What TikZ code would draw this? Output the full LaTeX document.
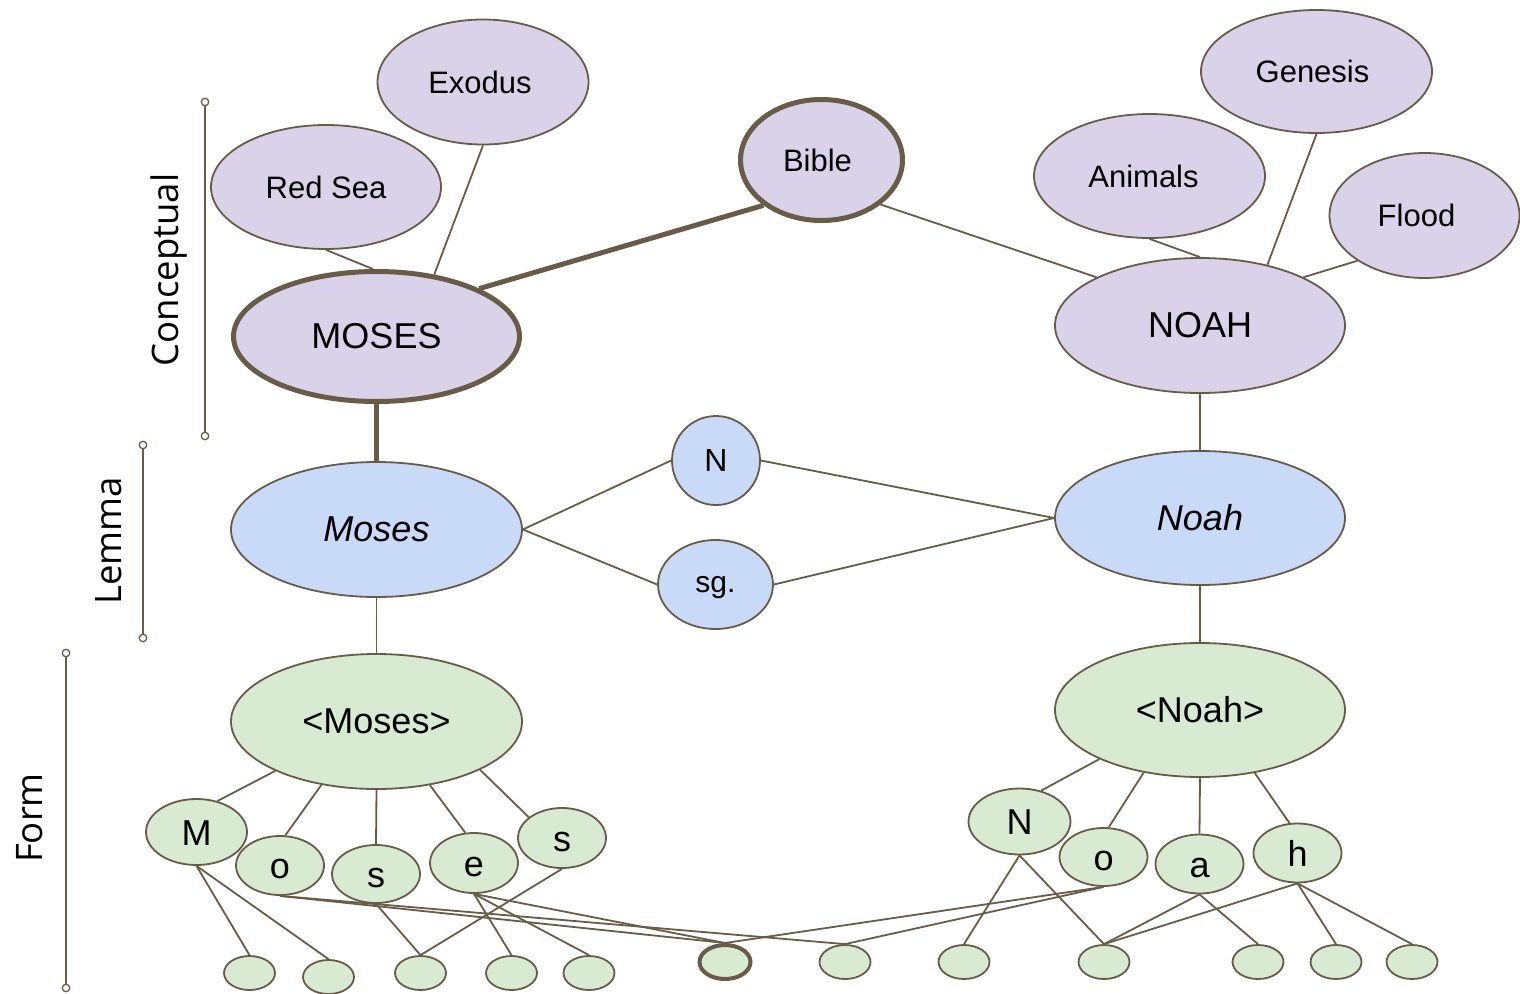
\documentclass[tikz,border=0pt]{standalone}
\usepackage{fontspec}
\setmainfont{Liberation Sans}
\newfontfamily\sidefont{Open Sans}
\usetikzlibrary{shapes.geometric}

\definecolor{edgec}{HTML}{685B47}
\definecolor{concc}{HTML}{D9D2E9}
\definecolor{lemc}{HTML}{C9DAF8}
\definecolor{formc}{HTML}{D9EAD3}

\newcommand\szBig{\fontsize{36}{40}\selectfont}
\newcommand\szMid{\fontsize{31}{36}\selectfont}
\newcommand\szSide{\fontsize{36.5}{40}\selectfont}
% shift a label sideways inside its oval
\newcommand\nudge[2]{\hspace*{#1}#2}

\tikzset{
  oval/.style={ellipse, draw=edgec, line width=1.8pt, inner sep=0pt,
               text=black, minimum width=#1},
  conc/.style={oval=#1, fill=concc},
  lemn/.style={oval=#1, fill=lemc},
  formn/.style={oval=#1, fill=formc},
  letter/.style={formn=#1, font=\szBig, text height=26pt, text depth=0pt},
  heavy/.style={line width=5pt},
  link/.style={draw=edgec, line width=1.8pt},
  biglink/.style={draw=edgec, line width=5pt},
  tick/.style={circle, draw=edgec, fill=white, line width=1.3pt,
               minimum size=7.5pt, inner sep=0pt},
  bar/.style={draw=edgec, line width=2pt},
  side/.style={rotate=90, font=\sidefont\szSide, text=black},
  leaf/.style={formn=51pt, minimum height=34pt},
}

\begin{document}
\begin{tikzpicture}[x=1pt, y=-1pt]
\useasboundingbox (0,0) rectangle (1520,993);

% level scales on the left
\node[tick] (cT) at (205,102) {};
\node[tick] (cB) at (205,436) {};
\node[tick] (lT) at (143,445) {};
\node[tick] (lB) at (143,638) {};
\node[tick] (fT) at (66,653) {};
\node[tick] (fB) at (66,988) {};
\draw[bar] (cT) -- (cB);
\draw[bar] (lT) -- (lB);
\draw[bar] (fT) -- (fB);
\node[side] (labC) at (169,270) {Conceptual};
\node[side] (labL) at (109,541) {Lemma};
\node[side] (labF) at (30,818) {Form};

% conceptual level
\node[conc=211pt, minimum height=125pt, font=\szMid] (exodus) at (483,82) {\nudge{-6pt}{Exodus}};
\node[conc=230pt, minimum height=124pt, font=\szMid] (redsea) at (326,187) {Red Sea};
\node[conc=286pt, minimum height=130pt, heavy, font=\szBig] (mosesC) at (376.5,336.5) {MOSES};
\node[conc=162pt, minimum height=121pt, heavy, font=\szMid] (bible) at (821.5,160) {\nudge{-8pt}{Bible}};
\node[conc=231pt, minimum height=123pt, font=\szMid] (genesis) at (1316.5,71.5) {\nudge{-8pt}{Genesis}};
\node[conc=231pt, minimum height=124pt, font=\szMid] (animals) at (1149.5,176) {\nudge{-12pt}{Animals}};
\node[conc=190pt, minimum height=125pt, font=\szMid] (flood) at (1424.5,215.5) {\nudge{-16pt}{Flood}};
\node[conc=290pt, minimum height=135pt, font=\szBig] (noahC) at (1200,325.5) {NOAH};

% lemma level
\node[lemn=291pt, minimum height=135pt, font=\szBig\itshape] (mosesL) at (376.5,529.5) {Moses};
\node[lemn=88pt, minimum height=89pt, font=\fontsize{32}{36}\selectfont] (numN) at (716,460.5) {N};
\node[lemn=115pt, minimum height=89pt, font=\fontsize{30}{34}\selectfont, text depth=0pt] (sg) at (715.5,584.5) {sg.};
\node[lemn=290pt, minimum height=134pt, font=\szBig\itshape] (noahL) at (1200,518) {Noah};

% form level
\node[formn=291pt, minimum height=135pt, font=\szBig] (mosesF) at (376.5,721.5) {<Moses>};
\node[formn=290pt, minimum height=134pt, font=\szBig] (noahF) at (1200,710) {<Noah>};

\node[letter=101pt, minimum height=66pt] (lM) at (196.5,832) {M};
\node[letter=88pt, minimum height=59pt] (lo1) at (280,865.5) {o};
\node[letter=88pt, minimum height=58pt] (ls1) at (376,874) {s};
\node[letter=88pt, minimum height=60pt] (le) at (474,863) {e};
\node[letter=88pt, minimum height=60pt] (ls2) at (562,838) {s};

\node[letter=102pt, minimum height=66pt] (lN) at (1019.5,821.5) {N};
\node[letter=88pt, minimum height=58pt] (lo2) at (1103.5,857) {o};
\node[letter=88pt, minimum height=59pt] (la) at (1199.5,864) {a};
\node[letter=88pt, minimum height=59pt] (lh) at (1297.5,853) {h};

% feature nodes along the bottom
\node[leaf] (b1) at (249.5,973) {};
\node[leaf] (b2) at (328.5,977) {};
\node[leaf] (b3) at (420.5,973) {};
\node[leaf] (b4) at (511.5,973) {};
\node[leaf] (b5) at (589,973) {};
\node[leaf, minimum width=51pt, minimum height=34pt, line width=4pt] (b6) at (725,962) {};
\node[leaf] (b7) at (845,962) {};
\node[leaf] (b8) at (964,962) {};
\node[leaf] (b9) at (1104,962) {};
\node[leaf] (b10) at (1258,962) {};
\node[leaf] (b11) at (1336,962) {};
\node[leaf] (b12) at (1412,962) {};

% conceptual links
\draw[link] (redsea.270) -- (mosesC.93);
\draw[link] (exodus.270) -- (mosesC.47);
\draw[biglink] (mosesC.25) -- (bible.218);
\draw[link] (bible.323) -- (noahC.155);
\draw[link] (animals.270) -- (noahC.90);
\draw[link] (genesis.270) -- (noahC.42);
\draw[link] (flood.214) -- (noahC.25);

% concept to lemma to form
\draw[biglink] (mosesC.south) -- (mosesL.north);
\draw[link] (noahC.south) -- (noahL.north);
\draw[link] (mosesL.east) -- (numN.west);
\draw[link] (mosesL.east) -- (sg.west);
\draw[link] (numN.east) -- (noahL.west);
\draw[link] (sg.east) -- (noahL.west);
\draw[link] (mosesL.south) -- (mosesF.north);
\draw[link] (noahL.south) -- (noahF.north);

% word forms to letters
\draw[link] (mosesF.206) -- (lM.56);
\draw[link] (mosesF.229) -- (lo1.80);
\draw[link] (mosesF.south) -- (ls1.north);
\draw[link] (mosesF.310) -- (le.106);
\draw[link] (mosesF.335) -- (ls2.148);
\draw[link] (noahF.206) -- (lN.55);
\draw[link] (noahF.228) -- (lo2.80);
\draw[link] (noahF.south) -- (la.north);
\draw[link] (noahF.311) -- (lh.105);

% letters to features
\foreach \u/\v in {lM/b1, lM/b2, lo1/b6, lo1/b7, ls1/b3, le/b4, le/b5, le/b6,
                   ls2/b3, lN/b8, lN/b9, lo2/b6, lo2/b7, la/b9, la/b10,
                   lh/b9, lh/b11, lh/b12}
  \draw[link] (\u.south) -- (\v.north);
\end{tikzpicture}
\end{document}
